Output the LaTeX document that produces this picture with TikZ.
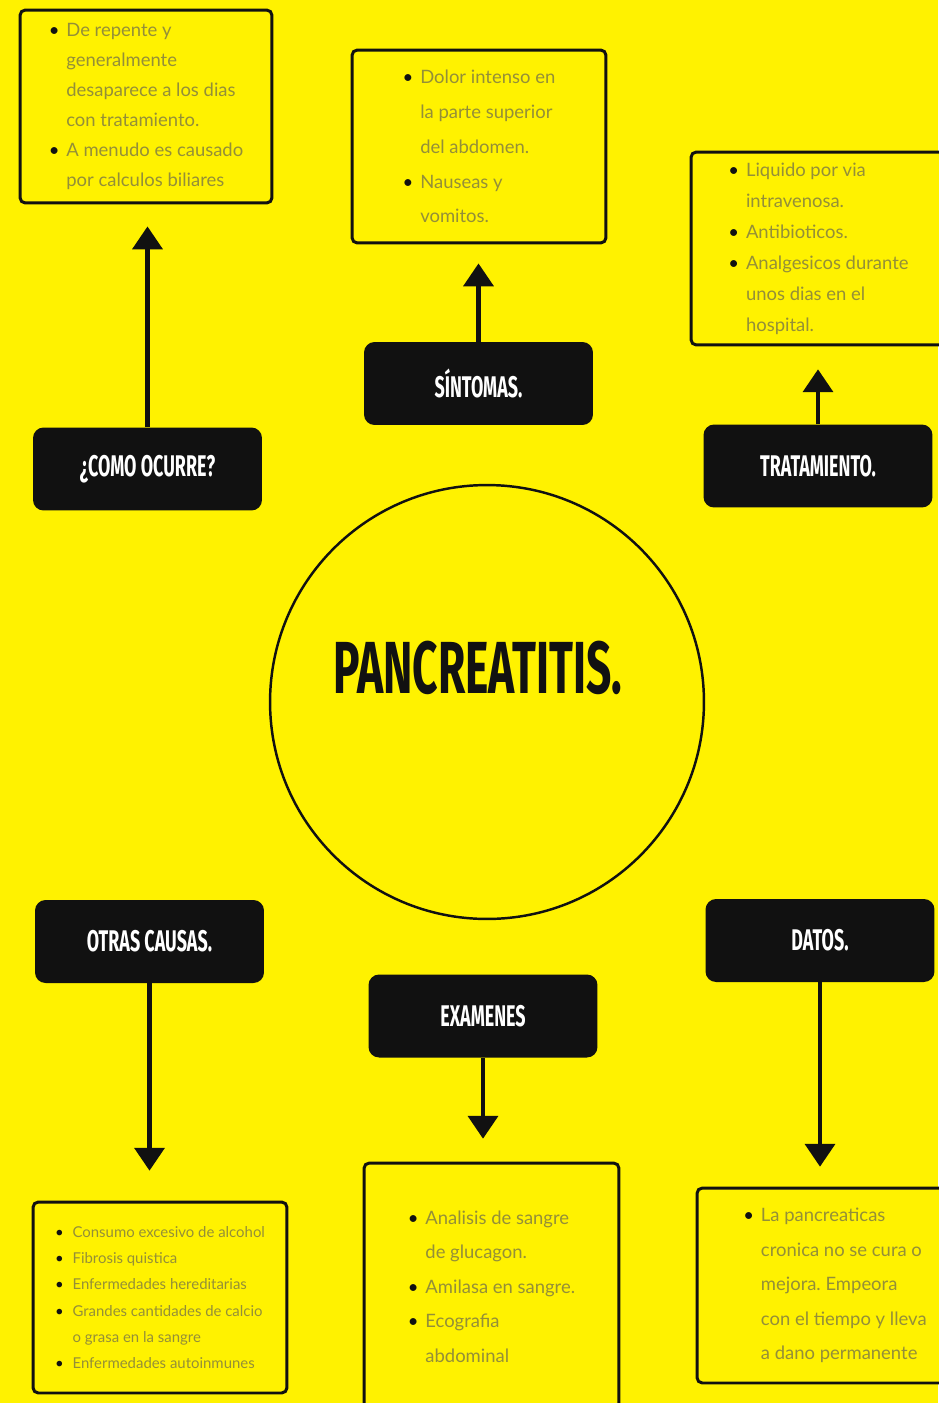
\documentclass[tikz,border=0pt]{standalone}
\usepackage{fontspec}
\setmainfont{Lato}
\newfontfamily\headfont{Fira Sans}[FakeStretch=0.6]
\usepackage{tikz}
\usetikzlibrary{arrows.meta,calc,positioning}
\definecolor{bg}{HTML}{FFF200}
\definecolor{ink}{HTML}{111111}
\definecolor{faint}{HTML}{948F38}
\newcommand{\blt}{\makebox[10pt][l]{\textcolor{ink}{\textbullet}}}
\newcommand{\ind}{\makebox[10pt]{}}
\frenchspacing

\begin{document}
\begin{tikzpicture}[x=0.02cm,y=-0.02cm,>={Triangle[width=17pt,length=13pt]},
  head/.style={fill=ink,rounded corners=6pt,minimum width=4.58cm,minimum height=1.66cm,text=white,font=\headfont\bfseries\fontsize{17}{17}\selectfont},
  info/.style={draw=ink,line width=1.7pt,fill=bg,rounded corners=3pt,align=left,text=faint},
  arr/.style={->,line width=2.3pt,draw=ink}]
\fill[bg] (0,0) rectangle (938,1403);
\useasboundingbox (0,0) rectangle (938,1403);

% centre
\node[draw=ink,circle,line width=1.4pt,minimum size=8.68cm] (pan) at (487,702) {};
\node[font=\headfont\bfseries\fontsize{42}{42}\selectfont,text=ink] (title) at (478,668) {PANCREATITIS.};

% headers
\node[head] (como) at (147.5,469) {¿COMO OCURRE?};
\node[head] (sint) at (478.5,383.5) {SÍNTOMAS.};
\node[head] (trat) at (818,466) {TRATAMIENTO.};
\node[head] (otras) at (149.5,941.5) {OTRAS CAUSAS.};
\node[head] (exam) at (483,1016) {EXAMENES};
\node[head] (datos) at (820,940.5) {DATOS.};

% text boxes
\node[info,minimum width=5.04cm,minimum height=3.86cm,font=\fontsize{10.5}{17}\selectfont] (tl) at (146,106.5)
  {\blt De repente y\\ \ind generalmente\\ \ind desaparece a los dias\\ \ind con tratamiento.\\ \blt A menudo es causado\\ \ind por calculos biliares};
\node[info,minimum width=5.08cm,minimum height=3.86cm,font=\fontsize{10.5}{19.8}\selectfont] (tm) at (479,146.5)
  {\blt Dolor intenso en\\ \ind la parte superior\\ \ind del abdomen.\\ \blt Nauseas y\\ \ind vomitos.};
\node[info,minimum width=5.1cm,minimum height=3.86cm,font=\fontsize{10.5}{17.6}\selectfont] (tr) at (818.5,248.5)
  {\blt Liquido por via\\ \ind intravenosa.\\ \blt Antibioticos.\\ \blt Analgesicos durante\\ \ind unos dias en el\\ \ind hospital.};
\node[info,minimum width=5.08cm,minimum height=3.82cm,font=\fontsize{8.5}{15}\selectfont] (bl) at (160,1297.5)
  {\blt Consumo excesivo de alcohol\\ \blt Fibrosis quistica\\ \blt Enfermedades hereditarias\\ \blt Grandes cantidades de calcio\\ \ind o grasa en la sangre\\ \blt Enfermedades autoinmunes};
\node[info,minimum width=5.1cm,minimum height=4.94cm,font=\fontsize{10.5}{19.6}\selectfont] (bm) at (491.5,1286.5)
  {\blt Analisis de sangre\\ \ind de glucagon.\\ \blt Amilasa en sangre.\\ \blt Ecografia\\ \ind abdominal};
\node[info,minimum width=5.52cm,minimum height=3.9cm,font=\fontsize{10.5}{19.6}\selectfont] (br) at (835,1285.5)
  {\blt La pancreaticas\\ \ind cronica no se cura o\\ \ind mejora. Empeora\\ \ind con el tiempo y lleva\\ \ind a dano permanente};

% arrows
\draw[arr,shorten >=12.5pt] (como.north) -- (como.north |- tl.south);
\draw[arr,shorten >=10.8pt] (sint.north) -- (sint.north |- tm.south);
\draw[arr,shorten >=13pt] (trat.north) -- (trat.north |- tr.south);
\draw[arr,shorten >=17pt] (otras.south) -- (otras.south |- bl.north);
\draw[arr,shorten >=13pt] (exam.south) -- (exam.south |- bm.north);
\draw[arr,shorten >=11.3pt] (datos.south) -- (datos.south |- br.north);
\end{tikzpicture}
\end{document}
